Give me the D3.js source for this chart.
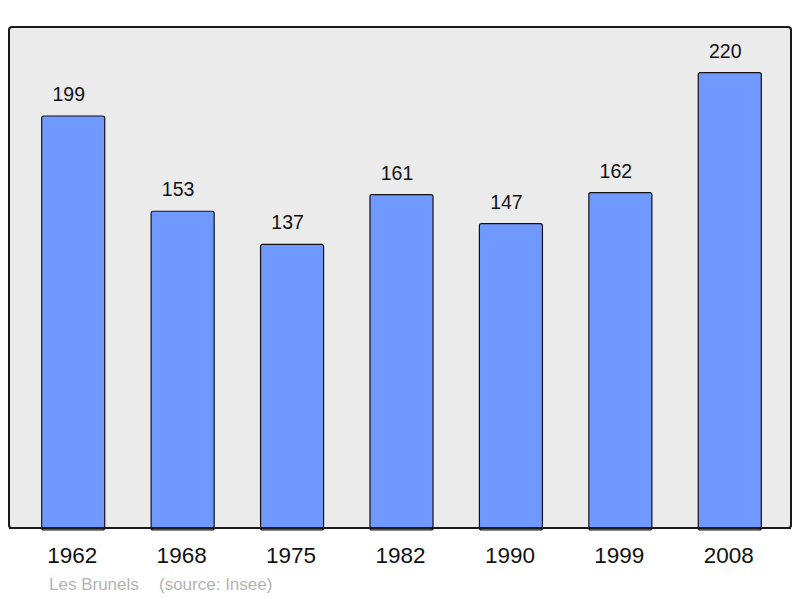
<!DOCTYPE html>
<html><head><meta charset="utf-8">
<script src="https://cdn.jsdelivr.net/npm/d3@7"></script>
<style>body{margin:0;background:#fff;} svg{display:block;font-family:"Liberation Sans",Arial,sans-serif;}</style>
</head><body>
<svg id="c" width="800" height="598"></svg>
<script>
const years = ["1962","1968","1975","1982","1990","1999","2008"];
const population = [199,153,137,161,147,162,220];
const place = "Les Brunels";
const source = "(source: Insee)";

const svg = d3.select("#c");
const frame = {left:9, top:27, right:791, bottom:528};
const x = d3.scaleBand().domain(years).range([18.5,784.5]).paddingInner(0.424).paddingOuter(0.212);
const y = d3.scaleLinear().domain([0, 242]).range([frame.bottom, frame.top]);

svg.append("rect").attr("x",frame.left).attr("y",frame.top)
  .attr("width",frame.right-frame.left).attr("height",frame.bottom-frame.top)
  .attr("rx",3).attr("fill","#ebebeb").attr("stroke","#1a1a1a").attr("stroke-width",2);

svg.selectAll("rect.bar").data(population).join("rect").attr("class","bar")
  .attr("x",(d,i)=>x(years[i])).attr("width",x.bandwidth())
  .attr("y",d=>y(d)).attr("height",d=>y(0)-y(d)+2)
  .attr("rx",2).attr("fill","#7099ff").attr("stroke","#111").attr("stroke-width",1.2);

svg.append("line").attr("x1",frame.left).attr("x2",frame.right).attr("y1",frame.bottom).attr("y2",frame.bottom)
  .attr("stroke","#1a1a1a").attr("stroke-width",2);

svg.selectAll("text.val").data(population).join("text").attr("class","val")
  .attr("x",(d,i)=>x(years[i])+x.bandwidth()/2-4.5).attr("y",d=>y(d)-15)
  .attr("text-anchor","middle").attr("font-size",19.5).attr("fill","#111").text(d=>d);

const xAxis = d3.axisBottom(x).tickSize(0).tickPadding(0);
const ax = svg.append("g").attr("transform",`translate(0,${frame.bottom+35})`).call(xAxis);
ax.select(".domain").remove();
ax.selectAll("text").attr("font-size",22.5).attr("fill","#111").attr("dy",0).attr("dx",-1)
  .style("font-family","'Liberation Sans',Arial,sans-serif");

svg.append("text").attr("x",49).attr("y",590).attr("font-size",17).attr("fill","#b3b3b3").text(place);
svg.append("text").attr("x",159).attr("y",590).attr("font-size",17).attr("fill","#b3b3b3").text(source);
</script>
</body></html>
